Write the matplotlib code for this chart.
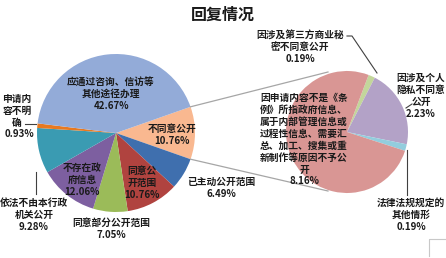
import numpy as np
import matplotlib.pyplot as plt

plt.rcParams['font.family'] = ['Noto Sans CJK SC', 'DejaVu Sans']

# main pie, clockwise starting at the "不同意公开" slice
main_labels = ['不同意公开', '已主动公开范围', '同意公开范围', '同意部分公开范围',
               '不存在政府信息', '依法不由本行政机关公开', '申请内容不明确',
               '应通过咨询、信访等其他途径办理']
main_values = [10.76, 6.49, 10.76, 7.05, 12.06, 9.28, 0.93, 42.67]
main_colors = ['#F9B890', '#3F6FAE', '#B0433F', '#9BBB59', '#7D5FA0',
               '#3A9BB2', '#E8791F', '#93ABD8']

# secondary pie (breakdown of 不同意公开), clockwise from top
sub_labels = ['因涉及第三方商业秘密不同意公开', '因涉及个人隐私不同意公开',
              '法律法规规定的其他情形', '因申请内容不是《条例》所指政府信息等原因不予公开']
sub_values = [0.19, 2.23, 0.19, 8.16]
sub_colors = ['#C3D69B', '#B3A2C7', '#93CDDD', '#D99694']

W, H = 446, 258
fig = plt.figure(figsize=(W / 100, H / 100), dpi=100)
ax = fig.add_axes([0, 0, 1, 1])

def Y(y):
    return H - y

c1, r1 = (116, Y(133)), 79
c2, r2 = (347, Y(132)), 61

start1 = main_values[0] * 3.6 / 2
ax.pie(main_values, colors=main_colors, startangle=start1, counterclock=False,
       center=c1, radius=r1, frame=True, wedgeprops=dict(linewidth=0))
start2 = -18 + sum(sub_values[:3]) / sum(sub_values) * 360
ax.pie(sub_values, colors=sub_colors, startangle=start2, counterclock=False,
       center=c2, radius=r2, frame=True, wedgeprops=dict(linewidth=0))
ax.set_xlim(0, W)
ax.set_ylim(0, H)
ax.set_aspect('equal')
ax.axis('off')

# connector lines between the pies
a = np.radians(start1)
lc = '#A6A6A6'
ax.plot([c1[0] + r1 * np.cos(a), 328], [c1[1] + r1 * np.sin(a), Y(72)], color=lc, lw=0.9)
ax.plot([c1[0] + r1 * np.cos(a), 328], [c1[1] - r1 * np.sin(a), Y(191)], color=lc, lw=0.9)

fs = 7
kw = dict(fontsize=fs, fontweight='bold', ha='center', va='center',
          linespacing=1.25, color='#1A1A1A')

def lab(x, y, s):
    ax.text(x, Y(y), s, **kw)

ax.text(W / 2, Y(15), '回复情况', fontsize=11.5, fontweight='bold',
        ha='center', va='center', color='#1A1A1A')

lab(111, 94, '应通过咨询、信访等\n其他途径办理\n42.67%')
lab(172, 135, '不同意公开\n10.76%')
lab(221, 188, '已主动公开范围\n6.49%')
lab(142, 183, '同意公\n开范围\n10.76%')
lab(111, 229, '同意部分公开范围\n7.05%')
lab(82, 180, '不存在政\n府信息\n12.06%')
lab(34, 215, '依法不由本行政\n机关公开\n9.28%')
lab(17, 111, '申请内\n容不明\n确')
lab(19, 134, '0.93%')
lab(300, 47, '因涉及第三方商业秘\n密不同意公开\n0.19%')
lab(421, 96, '因涉及个人\n隐私不同意\n公开\n2.23%')
lab(304, 139.5, '因申请内容不是《条\n例》所指政府信息、\n属于内部管理信息或\n过程性信息、需要汇\n总、加工、搜集或重\n新制作等原因不予公\n开\n8.16%')
lab(411, 215, '法律法规规定的\n其他情形\n0.19%')

# leader lines
ll = '#404040'
ax.plot([25, 36], [Y(124), Y(124)], color=ll, lw=0.8)
ax.plot([36, 36], [Y(172), Y(194)], color=ll, lw=0.8)
ax.plot([347, 352, 377], [Y(36), Y(36), Y(73)], color=ll, lw=0.8)
ax.plot([406, 409, 412], [Y(108), Y(106), Y(104)], color=ll, lw=0.8)
ax.plot([407, 407], [Y(150), Y(195)], color=ll, lw=0.8)

# corner of plot frame at bottom right
ax.plot([429, 429, 446], [Y(256), Y(239), Y(239)], color='#C8C8C8', lw=0.8)

fig.savefig('out.png', dpi=100)
